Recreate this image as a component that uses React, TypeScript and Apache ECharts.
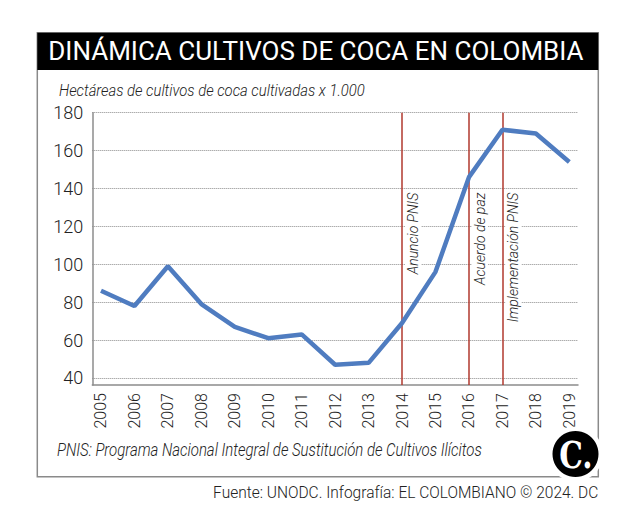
import React, { useEffect, useRef } from "react";
import * as echarts from "echarts";

const years = [2005, 2006, 2007, 2008, 2009, 2010, 2011, 2012, 2013, 2014, 2015, 2016, 2017, 2018, 2019];
const hectares = [86, 78, 99, 79, 67, 61, 63, 47, 48, 69, 96, 146, 171, 169, 154];
const yTicks = [40, 60, 80, 100, 120, 140, 160, 180];
const eventYears = [2014, 2016, 2017];
const eventLabels = ["Anuncio PNIS", "Acuerdo de paz", "Implementación PNIS"];

const titleText = "DINÁMICA CULTIVOS DE COCA EN COLOMBIA";
const subtitleText = "Hectáreas de cultivos de coca cultivadas x 1.000";
const noteText = "PNIS: Programa Nacional Integral de Sustitución de Cultivos Ilícitos";
const sourceText = "Fuente: UNODC. Infografía: EL COLOMBIANO © 2024. DC";

export default function App() {
  const ref = useRef<HTMLDivElement>(null);
  useEffect(() => {
    if (!ref.current) return;
    const chart = echarts.init(ref.current, undefined, { renderer: "svg" });
    const font = "Roboto";
    chart.setOption({
      animation: false,
      backgroundColor: "#ffffff",
      grid: { left: 92.3, right: 59, top: 112.7, bottom: 147, containLabel: false },
      xAxis: {
        type: "value",
        min: 2004.74,
        max: 2019.26,
        axisLine: { show: true, lineStyle: { color: "#8c8c8c", width: 1.5 } },
        axisTick: { show: false, customValues: years },
        splitLine: { show: false },
        axisLabel: {
          customValues: years,
          rotate: 90,
          margin: 8,
          fontSize: 16,
          fontFamily: font,
          fontWeight: 300,
          color: "#222",
          formatter: (v: number) => String(v),
        },
      },
      yAxis: {
        type: "value",
        min: 36.3,
        max: 180,
        axisLine: { show: true, lineStyle: { color: "#8c8c8c", width: 1.5 } },
        axisTick: { show: false, customValues: yTicks },
        axisLabel: {
          customValues: yTicks,
          margin: 9,
          fontSize: 18,
          fontFamily: font,
          fontWeight: 300,
          color: "#222",
        },
        splitLine: { show: true, lineStyle: { color: "#8a8a8a", type: [1, 1], width: 1 } },
      },
      series: [
        {
          type: "line",
          data: years.map((y, i) => [y, hectares[i]]),
          symbol: "none",
          lineStyle: { color: "#4f7cc0", width: 4.5 },
          z: 3,
          markLine: {
            silent: true,
            symbol: "none",
            z: 2,
            lineStyle: { color: "#b0382e", width: 1.5, type: "solid" },
            label: {
              show: true,
              position: "insideEndBottom",
              distance: [78, 3],
              formatter: (p: any) => p.name,
              fontSize: 14,
              fontFamily: font,
              fontStyle: "italic",
              fontWeight: 300,
              color: "#222",
              backgroundColor: "#ffffff",
              padding: [1, 2, 1, 2],
            },
            data: eventYears.map((y, i) => ({ xAxis: y, name: eventLabels[i] })),
          },
        },
      ],
      graphic: [
        {
          type: "rect",
          shape: { x: 37.3, y: 32.7, width: 561, height: 444 },
          style: { fill: "none", stroke: "#8a8a8a", lineWidth: 1.5 },
          z: 10,
        },
        {
          type: "rect",
          shape: { x: 37.3, y: 32.7, width: 561, height: 37.3 },
          style: { fill: "#000000" },
          z: 11,
        },
        {
          type: "text",
          x: 48.3,
          y: 51,
          z: 12,
          style: {
            text: titleText,
            fill: "#ffffff",
            fontSize: 26,
            fontFamily: font,
            align: "left",
            verticalAlign: "middle",
            textAlign: "left",
            textVerticalAlign: "middle",
          },
        },
        {
          type: "text",
          x: 59,
          y: 90,
          scaleX: 0.873,
          z: 12,
          style: {
            text: subtitleText,
            fill: "#222",
            fontSize: 17,
            fontFamily: font,
            fontStyle: "italic",
            fontWeight: 300,
            align: "left",
            verticalAlign: "middle",
            textAlign: "left",
            textVerticalAlign: "middle",
          },
        },
        {
          type: "text",
          x: 57,
          y: 450,
          scaleX: 0.856,
          z: 12,
          style: {
            text: noteText,
            fill: "#222",
            fontSize: 17.5,
            fontFamily: font,
            fontStyle: "italic",
            fontWeight: 300,
            align: "left",
            verticalAlign: "middle",
            textAlign: "left",
            textVerticalAlign: "middle",
          },
        },
        {
          type: "text",
          x: 598.3,
          y: 492.5,
          scaleX: 0.94,
          z: 12,
          style: {
            text: sourceText,
            fill: "#222",
            fontSize: 16.5,
            fontFamily: font,
            fontWeight: 300,
            align: "right",
            verticalAlign: "middle",
            textAlign: "right",
            textVerticalAlign: "middle",
          },
        },
        {
          type: "circle",
          shape: { cx: 575.5, cy: 454, r: 27.5 },
          style: { fill: "#ffffff" },
          z: 13,
        },
        {
          type: "circle",
          shape: { cx: 575.5, cy: 454, r: 23 },
          style: { fill: "#000000" },
          z: 14,
        },
        {
          type: "text",
          x: 576,
          y: 455,
          scaleX: 0.78,
          z: 15,
          style: {
            text: "C.",
            fill: "#ffffff",
            fontSize: 38,
            fontFamily: "DejaVu Serif",
            fontWeight: "bold",
            align: "center",
            verticalAlign: "middle",
            textAlign: "center",
            textVerticalAlign: "middle",
          },
        },
      ],
    });
    return () => chart.dispose();
  }, []);
  return (
    <div
      ref={ref}
      style={{ position: "absolute", left: 0, top: 0, width: 637, height: 532 }}
    />
  );
}
